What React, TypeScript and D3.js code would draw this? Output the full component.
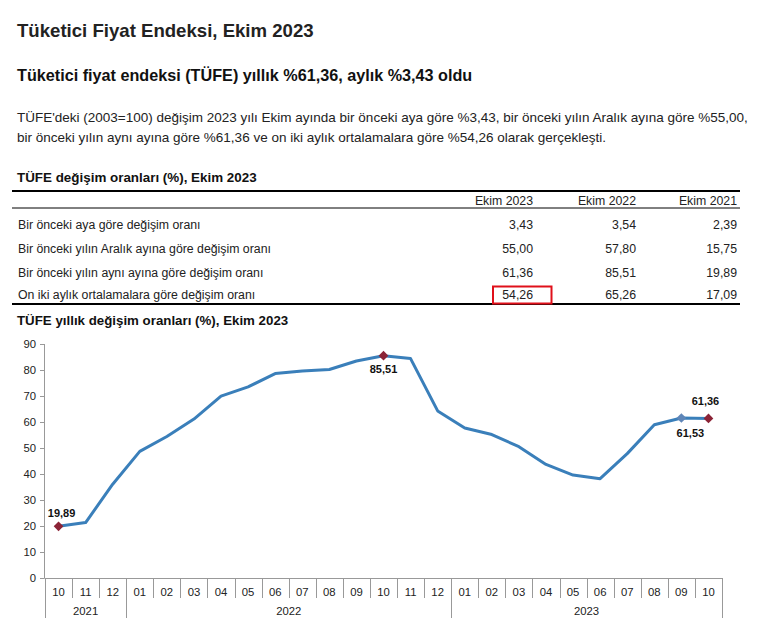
import { useEffect, useRef } from 'react';
import * as d3 from 'd3';

const months = ['10', '11', '12', '01', '02', '03', '04', '05', '06', '07', '08', '09', '10', '11', '12', '01', '02', '03', '04', '05', '06', '07', '08', '09', '10'];
const yearLabels = ['2021', '2022', '2023'];
const yearSpans = [3, 12, 10];
const annualChange = [19.89, 21.31, 36.08, 48.69, 54.44, 61.14, 69.97, 73.5, 78.62, 79.6, 80.21, 83.45, 85.51, 84.39, 64.27, 57.68, 55.18, 50.51, 43.68, 39.59, 38.21, 47.83, 58.94, 61.53, 61.36];
const yTicks = [0, 10, 20, 30, 40, 50, 60, 70, 80, 90];

// labelled points: index, position of label
const labelled = [
  { i: 0, text: '19,89', dx: 3, dy: -13, color: '#8b2336' },
  { i: 12, text: '85,51', dx: 0, dy: 13, color: '#8b2336' },
  { i: 23, text: '61,53', dx: 9, dy: 15, color: '#5f86b8' },
  { i: 24, text: '61,36', dx: -3, dy: -17, color: '#8b2336' },
];

const tableCols = ['Ekim 2023', 'Ekim 2022', 'Ekim 2021'];
const tableRows = [
  'Bir önceki aya göre değişim oranı',
  'Bir önceki yılın Aralık ayına göre değişim oranı',
  'Bir önceki yılın aynı ayına göre değişim oranı',
  'On iki aylık ortalamalara göre değişim oranı',
];
const ekim2023 = ['3,43', '55,00', '61,36', '54,26'];
const ekim2022 = ['3,54', '57,80', '85,51', '65,26'];
const ekim2021 = ['2,39', '15,75', '19,89', '17,09'];

const font = '"Liberation Sans", Arial, sans-serif';

export default function App() {
  const svgRef = useRef<SVGSVGElement>(null);

  useEffect(() => {
    if (!svgRef.current) return;
    const svg = d3.select(svgRef.current);
    svg.selectAll('*').remove();
    svg.attr('font-family', font);

    // headings
    svg.append('text').attr('x', 17).attr('y', 37).attr('font-size', 18.6).attr('font-weight', 'bold').attr('fill', '#222')
      .text('Tüketici Fiyat Endeksi, Ekim 2023');
    svg.append('text').attr('x', 17).attr('y', 81).attr('font-size', 16.2).attr('font-weight', 'bold').attr('fill', '#111')
      .text('Tüketici fiyat endeksi (TÜFE) yıllık %61,36, aylık %3,43 oldu');
    svg.append('text').attr('x', 17).attr('y', 122).attr('font-size', 13.5).attr('fill', '#222')
      .text("TÜFE'deki (2003=100) değişim 2023 yılı Ekim ayında bir önceki aya göre %3,43, bir önceki yılın Aralık ayına göre %55,00,");
    svg.append('text').attr('x', 17).attr('y', 142).attr('font-size', 13.5).attr('fill', '#222')
      .text('bir önceki yılın aynı ayına göre %61,36 ve on iki aylık ortalamalara göre %54,26 olarak gerçekleşti.');

    // table
    svg.append('text').attr('x', 17).attr('y', 182).attr('font-size', 13.4).attr('font-weight', 'bold').attr('fill', '#111')
      .text('TÜFE değişim oranları (%), Ekim 2023');
    svg.append('line').attr('x1', 12).attr('x2', 740).attr('y1', 191).attr('y2', 191).attr('stroke', '#000').attr('stroke-width', 2);
    svg.append('line').attr('x1', 12).attr('x2', 740).attr('y1', 208).attr('y2', 208).attr('stroke', '#000').attr('stroke-width', 1);
    svg.append('line').attr('x1', 12).attr('x2', 740).attr('y1', 304).attr('y2', 304).attr('stroke', '#000').attr('stroke-width', 2);

    const colRight = [533, 636, 737];
    const colValues = [ekim2023, ekim2022, ekim2021];
    const rowY = [225, 248.5, 272.5, 294.5];
    tableCols.forEach((c, j) => {
      svg.append('text').attr('x', colRight[j]).attr('y', 201).attr('dy', '0.35em').attr('text-anchor', 'end')
        .attr('font-size', 12.3).attr('fill', '#222').text(c);
    });
    tableRows.forEach((r, k) => {
      svg.append('text').attr('x', 18).attr('y', rowY[k]).attr('dy', '0.35em').attr('font-size', 12.3).attr('fill', '#222').text(r);
      colValues.forEach((vals, j) => {
        svg.append('text').attr('x', colRight[j]).attr('y', rowY[k]).attr('dy', '0.35em').attr('text-anchor', 'end')
          .attr('font-size', 12.3).attr('fill', '#222').text(vals[k]);
      });
    });
    svg.append('rect').attr('x', 493).attr('y', 286.5).attr('width', 58.5).attr('height', 17)
      .attr('fill', 'none').attr('stroke', '#e0101a').attr('stroke-width', 2);

    // chart
    svg.append('text').attr('x', 17).attr('y', 325).attr('font-size', 13.3).attr('font-weight', 'bold').attr('fill', '#111')
      .text('TÜFE yıllık değişim oranları (%), Ekim 2023');

    const x = d3.scaleBand<number>().domain(d3.range(months.length)).range([45, 722]);
    const y = d3.scaleLinear().domain([0, 90]).range([578, 344]);
    const cx = (i: number) => (x(i) as number) + x.bandwidth() / 2;

    const axisColor = '#999';
    // y axis
    svg.append('line').attr('x1', 44.5).attr('x2', 44.5).attr('y1', y(90)).attr('y2', y(0)).attr('stroke', axisColor);
    yTicks.forEach(t => {
      svg.append('line').attr('x1', 40).attr('x2', 44.5).attr('y1', Math.round(y(t)) + 0.5).attr('y2', Math.round(y(t)) + 0.5).attr('stroke', axisColor);
      svg.append('text').attr('x', 36).attr('y', y(t)).attr('dy', '0.35em').attr('text-anchor', 'end')
        .attr('font-size', 11.3).attr('fill', '#222').text(t);
    });

    // x axis
    svg.append('line').attr('x1', 44.5).attr('x2', 722).attr('y1', 578.5).attr('y2', 578.5).attr('stroke', axisColor);
    const yearStarts = yearSpans.map((_, k) => d3.sum(yearSpans.slice(0, k)));
    const boundaries = d3.range(months.length + 1);
    boundaries.forEach(b => {
      const bx = Math.round(b < months.length ? (x(b) as number) : 722) + 0.5;
      const isYear = yearStarts.includes(b) || b === months.length;
      svg.append('line').attr('x1', bx).attr('x2', bx).attr('y1', 578).attr('y2', isYear ? 618 : 598).attr('stroke', axisColor);
    });
    months.forEach((m, i) => {
      svg.append('text').attr('x', cx(i)).attr('y', 592).attr('dy', '0.35em').attr('text-anchor', 'middle')
        .attr('font-size', 11.3).attr('fill', '#222').text(m);
    });
    yearLabels.forEach((yl, k) => {
      const start = x(yearStarts[k]) as number;
      const end = start + yearSpans[k] * x.bandwidth();
      svg.append('text').attr('x', (start + end) / 2).attr('y', 611).attr('dy', '0.35em').attr('text-anchor', 'middle')
        .attr('font-size', 11.3).attr('fill', '#222').text(yl);
    });

    // line
    const line = d3.line<number>().x((_, i) => cx(i)).y(d => y(d));
    svg.append('path').datum(annualChange).attr('d', line).attr('fill', 'none')
      .attr('stroke', '#3a7fba').attr('stroke-width', 3).attr('stroke-linejoin', 'round');

    // markers + labels
    const diamond = d3.symbol().type(d3.symbolDiamond2).size(60);
    labelled.forEach(p => {
      svg.append('path').attr('d', diamond()).attr('transform', `translate(${cx(p.i)},${y(annualChange[p.i])})`)
        .attr('fill', p.color);
      svg.append('text').attr('x', cx(p.i) + p.dx).attr('y', y(annualChange[p.i]) + p.dy).attr('dy', '0.35em')
        .attr('text-anchor', 'middle').attr('font-size', 11).attr('font-weight', 'bold').attr('fill', '#111').text(p.text);
    });
  }, []);

  return <svg ref={svgRef} width={771} height={623} style={{ position: 'absolute', left: 0, top: 0 }} />;
}
